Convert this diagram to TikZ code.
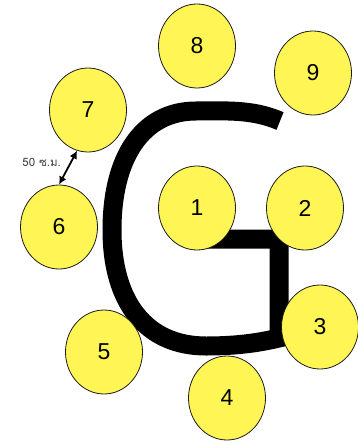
\documentclass[tikz,border=0pt]{standalone}
\usepackage{fontspec}
\setmainfont{Liberation Sans}
\newfontfamily\thaifont[Script=Thai]{Loma}
\usetikzlibrary{arrows.meta, shapes.geometric}
\definecolor{spotFill}{HTML}{FFF555}
\definecolor{spotBorder}{HTML}{1A1A1A}
\definecolor{textLight}{HTML}{404040}
\tikzset{
  spot/.style={ellipse, draw=spotBorder, fill=spotFill, line width=0.8pt,
    minimum width=77pt, minimum height=84pt, inner sep=0pt,
    font=\fontsize{23}{26}\selectfont, text=black},
  gstroke/.style={draw=black, line width=19pt, line join=miter, line cap=butt},
  dimarrow/.style={{Latex[length=8pt, width=8pt]}-{Latex[length=8pt, width=8pt]},
    line width=1.8pt, color=black},
  dimlabel/.style={font=\thaifont\fontsize{11.5}{13}\selectfont, text=textLight, inner sep=0pt},
}
\begin{document}
\begin{tikzpicture}[x=1pt, y=-1pt]
  \useasboundingbox (0,0) rectangle (357,441);

  % === The letter G ===
  \draw[gstroke] (280,121) .. controls (252,109) and (226,111) .. (196,111)
    .. controls (142,111) and (112,158) .. (112,230)
    .. controls (112,302) and (146,346) .. (206,346)
    .. controls (240,346) and (262,342) .. (279,338)
    -- (279,239) -- (205,239);

  % === Spots round the letter ===
  \node[spot] (c1) at (197,208) {1};
  \node[spot] (c2) at (305,208) {2};
  \node[spot] (c3) at (320,327) {3};
  \node[spot] (c4) at (227,398) {4};
  \node[spot] (c5) at (104,352) {5};
  \node[spot] (c6) at (59,227) {6};
  \node[spot] (c7) at (88,110) {7};
  \node[spot] (c8) at (197,46) {8};
  \node[spot] (c9) at (313,73) {9};

  % === Spacing mark between 6 and 7 ===
  \draw[dimarrow] (c6.north) -- (c7.-105);
  \node[dimlabel, anchor=east] (gap) at (61,162) {50 ซ.ม.};

\end{tikzpicture}
\end{document}
